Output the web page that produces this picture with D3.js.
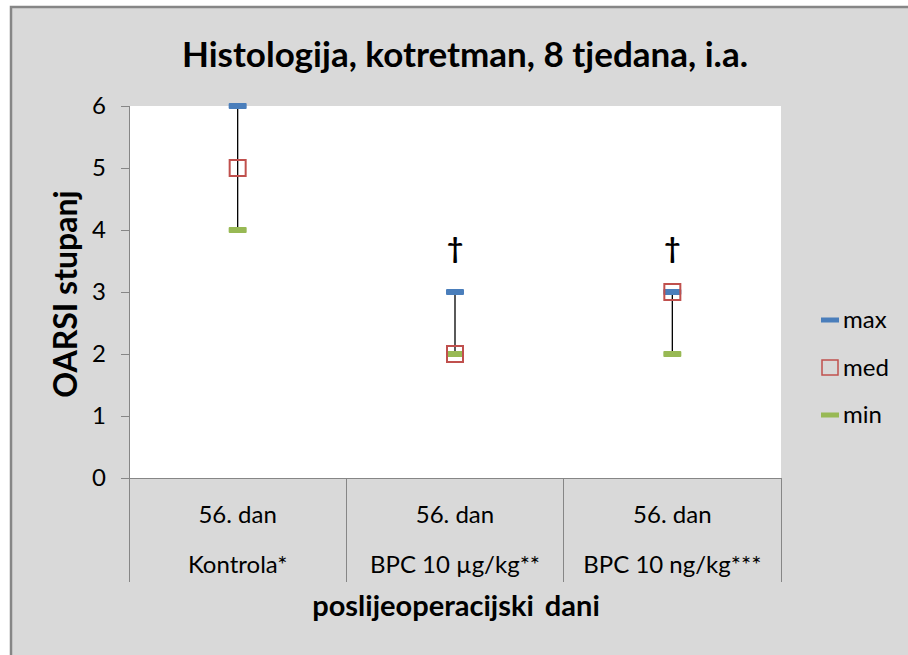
<!DOCTYPE html>
<html lang="hr">
<head>
<meta charset="utf-8">
<title>Histologija, kotretman</title>
<script src="https://d3js.org/d3.v7.min.js"></script>
<style>
body { margin: 0; background: #fff; }
svg text { font-family: Lato, "Open Sans", sans-serif; fill: #000; }
.axis text { font-size: 24px; }
.axis path, .axis line { stroke: #868686; shape-rendering: crispEdges; }
</style>
</head>
<body>
<svg width="908" height="655"></svg>
<script>
// data
var groups = ["Kontrola*", "BPC 10 \u00b5g/kg**", "BPC 10 ng/kg***"];
var days = ["56. dan", "56. dan", "56. dan"];
var maxVals = [6, 3, 3];
var medVals = [5, 2, 3];
var minVals = [4, 2, 2];
var yTicks = [0, 1, 2, 3, 4, 5, 6];
var marks = ["", "\u2020", "\u2020"];

var svg = d3.select("svg");

// chart frame
svg.append("rect")
   .attr("x", 11).attr("y", 7)
   .attr("width", 905).attr("height", 660)
   .attr("fill", "#d9d9d9")
   .attr("stroke", "#868686")
   .attr("stroke-width", 2.5);

var plotLeft = 129, plotTop = 106, plotW = 652, plotH = 372;

var x = d3.scaleBand().domain(groups).range([plotLeft, plotLeft + plotW]);
var y = d3.scaleLinear().domain([0, 6]).range([plotTop + plotH, plotTop]);

// plot area
svg.append("rect")
   .attr("x", plotLeft).attr("y", plotTop)
   .attr("width", plotW).attr("height", plotH)
   .attr("fill", "#fff");

// title
svg.append("text")
   .attr("x", 465).attr("y", 67)
   .attr("text-anchor", "middle")
   .attr("font-size", "35px")
   .attr("font-weight", "bold")
   .text("Histologija, kotretman, 8 tjedana, i.a.");

// y axis
var yAxis = svg.append("g")
   .attr("class", "axis")
   .attr("transform", "translate(" + plotLeft + ",0)")
   .call(d3.axisLeft(y).tickValues(yTicks).tickFormat(d3.format("d")).tickSize(8).tickPadding(15));
yAxis.select(".domain").remove();
yAxis.append("line")
   .attr("x1", 0).attr("x2", 0)
   .attr("y1", plotTop).attr("y2", plotTop + plotH + 104)
   .attr("stroke", "#868686");

// x axis line and category dividers
svg.append("line")
   .attr("x1", plotLeft - 8).attr("x2", plotLeft + plotW)
   .attr("y1", y(0)).attr("y2", y(0))
   .attr("stroke", "#868686")
   .attr("shape-rendering", "crispEdges");

var bounds = groups.map(function(g) { return x(g); }).concat([x(groups[2]) + x.bandwidth()]);
svg.selectAll(".divider")
   .data(bounds.slice(1))
   .enter().append("line")
   .attr("class", "divider")
   .attr("x1", function(d) { return d; })
   .attr("x2", function(d) { return d; })
   .attr("y1", y(0)).attr("y2", y(0) + 104)
   .attr("stroke", "#868686")
   .attr("shape-rendering", "crispEdges");

svg.selectAll(".day")
   .data(groups)
   .enter().append("text")
   .attr("class", "day")
   .attr("x", function(d) { return x(d) + x.bandwidth() / 2; })
   .attr("y", 523)
   .attr("text-anchor", "middle")
   .attr("font-size", "24px")
   .text(function(d, i) { return days[i]; });

svg.selectAll(".grp")
   .data(groups)
   .enter().append("text")
   .attr("class", "grp")
   .attr("x", function(d) { return x(d) + x.bandwidth() / 2; })
   .attr("y", 573)
   .attr("text-anchor", "middle")
   .attr("font-size", "24px")
   .text(function(d) { return d; });

// axis titles
svg.append("text")
   .attr("x", 456).attr("y", 616)
   .attr("text-anchor", "middle")
   .attr("font-size", "29px")
   .attr("font-weight", "bold")
   .attr("word-spacing", "4px")
   .text("poslijeoperacijski dani");

svg.append("text")
   .attr("transform", "translate(77,294) rotate(-90)")
   .attr("text-anchor", "middle")
   .attr("font-size", "32px")
   .attr("font-weight", "bold")
   .text("OARSI stupanj");

var cx = function(i) { return x(groups[i]) + x.bandwidth() / 2; };

// high-low lines
svg.selectAll(".hl")
   .data(groups)
   .enter().append("line")
   .attr("class", "hl")
   .attr("x1", function(d, i) { return cx(i); })
   .attr("x2", function(d, i) { return cx(i); })
   .attr("y1", function(d, i) { return y(minVals[i]); })
   .attr("y2", function(d, i) { return y(maxVals[i]); })
   .attr("stroke", "#000")
   .attr("stroke-width", 1.3);

function dash(vals, color) {
  svg.selectAll(null)
     .data(vals)
     .enter().append("rect")
     .attr("x", function(d, i) { return cx(i) - 9; })
     .attr("y", function(d) { return y(d) - 3; })
     .attr("width", 18).attr("height", 6)
     .attr("rx", 1)
     .attr("fill", color);
}
dash(maxVals, "#4a7ebb");
dash(minVals, "#98b954");

svg.selectAll(".med")
   .data(medVals)
   .enter().append("rect")
   .attr("class", "med")
   .attr("x", function(d, i) { return cx(i) - 8; })
   .attr("y", function(d) { return y(d) - 8; })
   .attr("width", 16).attr("height", 16)
   .attr("fill", "none")
   .attr("stroke", "#c0504d")
   .attr("stroke-width", 2);

// significance marks
svg.selectAll(".sig")
   .data(marks)
   .enter().append("text")
   .attr("class", "sig")
   .attr("x", function(d, i) { return cx(i); })
   .attr("y", y(3.55))
   .attr("text-anchor", "middle")
   .attr("font-family", "DejaVu Serif, serif")
   .attr("font-weight", "bold")
   .attr("font-size", "28px")
   .text(function(d) { return d; });

// legend
var legend = [
  { name: "max", color: "#4a7ebb", type: "dash" },
  { name: "med", color: "#c0504d", type: "box" },
  { name: "min", color: "#98b954", type: "dash" }
];
var lg = svg.selectAll(".lg")
   .data(legend)
   .enter().append("g")
   .attr("class", "lg")
   .attr("transform", function(d, i) { return "translate(821," + (320 + i * 47.5) + ")"; });

lg.filter(function(d) { return d.type === "dash"; })
  .append("rect")
  .attr("x", 0).attr("y", -2.5)
  .attr("width", 18).attr("height", 5)
  .attr("fill", function(d) { return d.color; });

lg.filter(function(d) { return d.type === "box"; })
  .append("rect")
  .attr("x", 1).attr("y", -7.5)
  .attr("width", 16).attr("height", 15)
  .attr("fill", "none")
  .attr("stroke", function(d) { return d.color; })
  .attr("stroke-width", 1.5);

lg.append("text")
  .attr("x", 22).attr("y", 8)
  .attr("font-size", "24px")
  .text(function(d) { return d.name; });
</script>
</body>
</html>
